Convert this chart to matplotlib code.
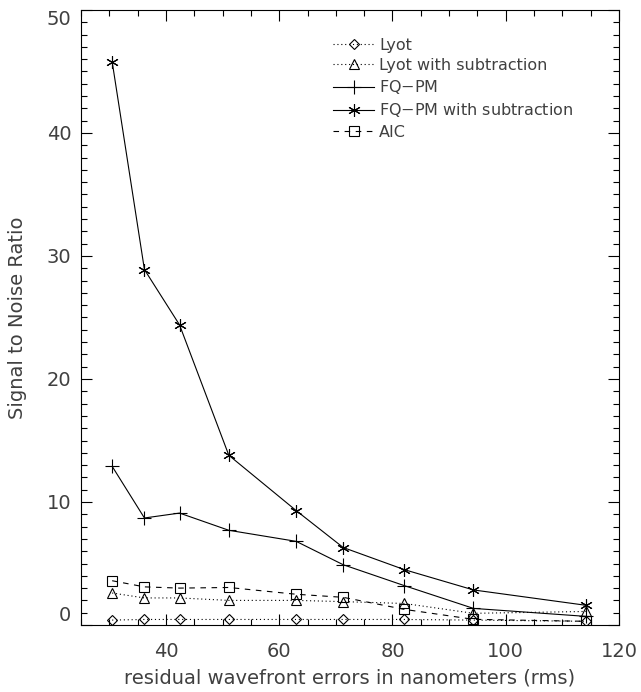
import matplotlib
matplotlib.use("Agg")
import matplotlib.pyplot as plt
from matplotlib.ticker import MultipleLocator

# wavefront error (nm rms) and signal to noise ratios
wfe = [30.5, 36.2, 42.4, 51.1, 63.0, 71.3, 82.1, 94.3, 114.2]
lyot = [0.4, 0.45, 0.45, 0.45, 0.45, 0.45, 0.45, 0.4, 0.3]
lyot_sub = [2.6, 2.2, 2.2, 2.0, 2.0, 1.9, 1.75, 0.95, 1.1]
fqpm = [12.9, 8.7, 9.1, 7.7, 6.8, 4.9, 3.2, 1.35, 0.7]
fqpm_sub = [45.8, 28.9, 24.4, 13.8, 9.3, 6.3, 4.5, 2.85, 1.6]
aic = [3.6, 3.1, 3.0, 3.05, 2.5, 2.25, 1.27, 0.46, 0.3]

labels = ["Lyot", "Lyot with subtraction", "FQ$-$PM",
          "FQ$-$PM with subtraction", "AIC"]

txt = "#404040"
plt.rcParams['font.family'] = ['DejaVu Sans']

fig = plt.figure(figsize=(6.41, 6.92), dpi=100)
ax = fig.add_axes([81/641, 1 - 625/692, 538/641, 615/692])

lw = 0.8
dots = (0, (1, 2.5))
ax.plot(wfe, lyot, ls=dots, color='k', lw=lw, marker='D', ms=5.5,
        mfc='none', mec='k', mew=0.8, label=labels[0])
ax.plot(wfe, lyot_sub, ls=dots, color='k', lw=lw, marker='^', ms=7.5,
        mfc='none', mec='k', mew=0.8, label=labels[1])
ax.plot(wfe, fqpm, ls='-', color='k', lw=lw, marker='+', ms=10,
        mew=0.8, label=labels[2])
ax.plot(wfe, fqpm_sub, ls='-', color='k', lw=lw, marker=(6, 2, 0), ms=9,
        mew=0.8, label=labels[3])
ax.plot(wfe, aic, ls=(0, (5, 5)), color='k', lw=lw, marker='s', ms=7,
        mfc='none', mec='k', mew=0.8, label=labels[4])

ax.set_xlim(25, 120)
ax.set_ylim(0, 50)
ax.xaxis.set_major_locator(MultipleLocator(20))
ax.xaxis.set_minor_locator(MultipleLocator(5))
ax.yaxis.set_major_locator(MultipleLocator(10))
ax.yaxis.set_minor_locator(MultipleLocator(1))
ax.tick_params(which='both', direction='in', top=True, right=True,
               width=0.8, colors='k', labelcolor=txt, labelsize=14)
ax.tick_params(which='major', length=8)
ax.tick_params(which='minor', length=4)
ax.tick_params(axis='x', pad=12)
ax.tick_params(axis='y', pad=7)
for s in ax.spines.values():
    s.set_linewidth(0.8)

ax.set_xlabel("residual wavefront errors in nanometers (rms)", fontsize=14,
              color=txt, labelpad=6)
ax.set_ylabel("Signal to Noise Ratio", fontsize=14, color=txt, labelpad=14)

ax.legend(loc='upper left', bbox_to_anchor=(0.468, 0.955), frameon=False,
          fontsize=11.5, handlelength=2.6, handletextpad=0.3,
          labelspacing=0.33, borderpad=0, borderaxespad=0, labelcolor=txt)

# IDL-style: end labels pulled inside the axis range
fig.canvas.draw()
for tick in ax.yaxis.get_major_ticks():
    if abs(tick.get_loc() - 0) < 1e-9:
        tick.label1.set_va('bottom')
    elif abs(tick.get_loc() - 50) < 1e-9:
        tick.label1.set_va('top')

fig.savefig("out.png", dpi=100)
